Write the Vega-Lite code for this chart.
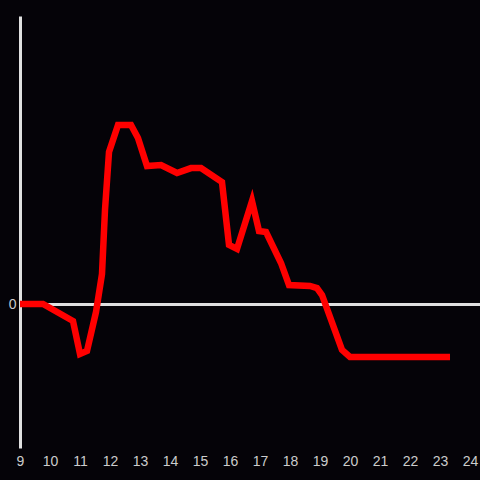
{
  "$schema": "https://vega.github.io/schema/vega-lite/v6.json",
  "width": 460,
  "height": 432,
  "padding": {"left": 20, "top": 16, "right": 0, "bottom": 32},
  "autosize": {"type": "none"},
  "background": "#050308",
  "config": {"view": {"stroke": null}},
  "data": {"values": [
    {"hour": 9.0, "value": 0},
    {"hour": 9.767, "value": 0},
    {"hour": 10.767, "value": -0.118},
    {"hour": 11.0, "value": -0.347},
    {"hour": 11.233, "value": -0.326},
    {"hour": 11.533, "value": -0.056},
    {"hour": 11.733, "value": 0.208},
    {"hour": 11.833, "value": 0.653},
    {"hour": 11.967, "value": 1.056},
    {"hour": 12.267, "value": 1.243},
    {"hour": 12.7, "value": 1.243},
    {"hour": 12.933, "value": 1.153},
    {"hour": 13.233, "value": 0.958},
    {"hour": 13.7, "value": 0.965},
    {"hour": 14.233, "value": 0.91},
    {"hour": 14.7, "value": 0.944},
    {"hour": 15.033, "value": 0.944},
    {"hour": 15.733, "value": 0.847},
    {"hour": 15.967, "value": 0.41},
    {"hour": 16.233, "value": 0.382},
    {"hour": 16.733, "value": 0.715},
    {"hour": 16.967, "value": 0.507},
    {"hour": 17.2, "value": 0.5},
    {"hour": 17.7, "value": 0.285},
    {"hour": 17.967, "value": 0.132},
    {"hour": 18.667, "value": 0.125},
    {"hour": 18.9, "value": 0.111},
    {"hour": 19.067, "value": 0.0625},
    {"hour": 19.733, "value": -0.319},
    {"hour": 20.0, "value": -0.368},
    {"hour": 23.333, "value": -0.368}
  ]},
  "mark": {"type": "line", "color": "#ff0000", "strokeWidth": 6.5, "strokeJoin": "miter", "strokeCap": "butt", "clip": false},
  "encoding": {
    "x": {
      "field": "hour", "type": "quantitative",
      "scale": {"domain": [9, 24.333], "nice": false, "zero": false},
      "axis": {
        "title": null, "values": [9,10,11,12,13,14,15,16,17,18,19,20,21,22,23,24],
        "domain": false, "ticks": false, "grid": false,
        "labelColor": "#cccccc", "labelFontSize": 14, "labelFont": "Liberation Sans",
        "labelPadding": 6, "labelFlush": false, "labelOverlap": false
      }
    },
    "y": {
      "field": "value", "type": "quantitative",
      "scale": {"domain": [-1, 2], "nice": false, "zero": false},
      "axis": {
        "title": null, "values": [0],
        "domain": true, "domainColor": "#e0e0e0", "domainWidth": 3,
        "ticks": false, "grid": true, "gridColor": "#e0e0e0", "gridWidth": 3, "gridOpacity": 1,
        "labelColor": "#cccccc", "labelFontSize": 14, "labelFont": "Liberation Sans",
        "labelPadding": 4
      }
    }
  }
}
